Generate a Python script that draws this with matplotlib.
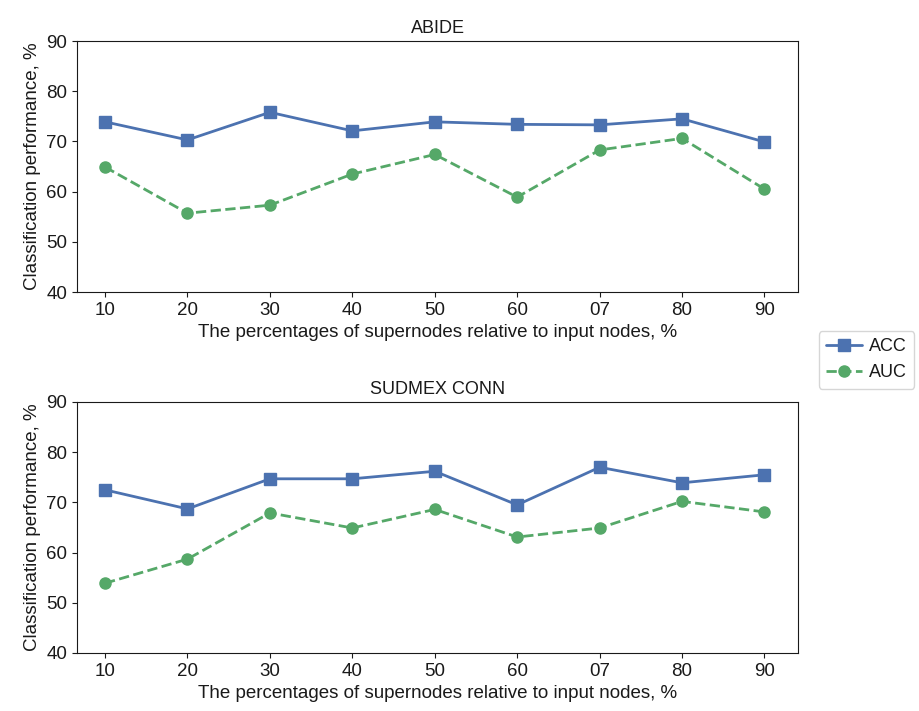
import matplotlib
matplotlib.use("Agg")
import matplotlib.pyplot as plt
import seaborn as sns
import numpy as np

# x categories (the reference labels 70 as "07")
percent_labels = ["10", "20", "30", "40", "50", "60", "07", "80", "90"]

abide_acc = [73.9, 70.3, 75.8, 72.1, 73.9, 73.4, 73.3, 74.5, 69.9]
abide_auc = [64.9, 55.7, 57.3, 63.5, 67.4, 58.9, 68.3, 70.6, 60.5]

sudmex_acc = [72.5, 68.7, 74.7, 74.7, 76.2, 69.5, 77.0, 73.9, 75.5]
sudmex_auc = [53.9, 58.7, 67.9, 64.9, 68.6, 63.1, 64.9, 70.2, 68.1]

sns.set_style("ticks")
plt.rcParams['font.family'] = ['Liberation Sans', 'DejaVu Sans']
plt.rcParams['text.color'] = '#1a1a1a'
plt.rcParams['axes.labelcolor'] = '#1a1a1a'
plt.rcParams['xtick.color'] = '#1a1a1a'
plt.rcParams['ytick.color'] = '#1a1a1a'
plt.rcParams['axes.edgecolor'] = '#1a1a1a'

blue = "#4C72B0"
green = "#55A868"
fs = 13.5

fig = plt.figure(figsize=(9.2, 7.11), dpi=100)
ax1 = fig.add_axes([0.0837, 0.5893, 0.784, 0.353])
ax2 = fig.add_axes([0.0837, 0.0816, 0.784, 0.353])

x = np.arange(len(percent_labels))
for ax, title, acc, auc in [(ax1, "ABIDE", abide_acc, abide_auc),
                            (ax2, "SUDMEX CONN", sudmex_acc, sudmex_auc)]:
    ax.plot(x, acc, '-s', color=blue, lw=2, ms=8, label="ACC")
    ax.plot(x, auc, '--o', color=green, lw=2, ms=8, label="AUC")
    ax.set_xticks(x)
    ax.set_xticklabels(percent_labels)
    ax.set_xlim(-0.34, 8.41)
    ax.set_ylim(40, 90)
    ax.set_yticks([40, 50, 60, 70, 80, 90])
    ax.set_title(title, fontsize=fs - 0.5)
    ax.set_xlabel("The percentages of supernodes relative to input nodes, %", fontsize=fs)
    ax.set_ylabel("Classification performance, %", fontsize=fs)
    ax.tick_params(labelsize=fs)

handles, labels = ax1.get_legend_handles_labels()
fig.legend(handles, labels, loc="center left", bbox_to_anchor=(0.886, 0.494),
           fontsize=13, frameon=True, handlelength=2.0, handletextpad=0.4,
           borderpad=0.4, borderaxespad=0.2)

fig.savefig("out.png", dpi=100)
